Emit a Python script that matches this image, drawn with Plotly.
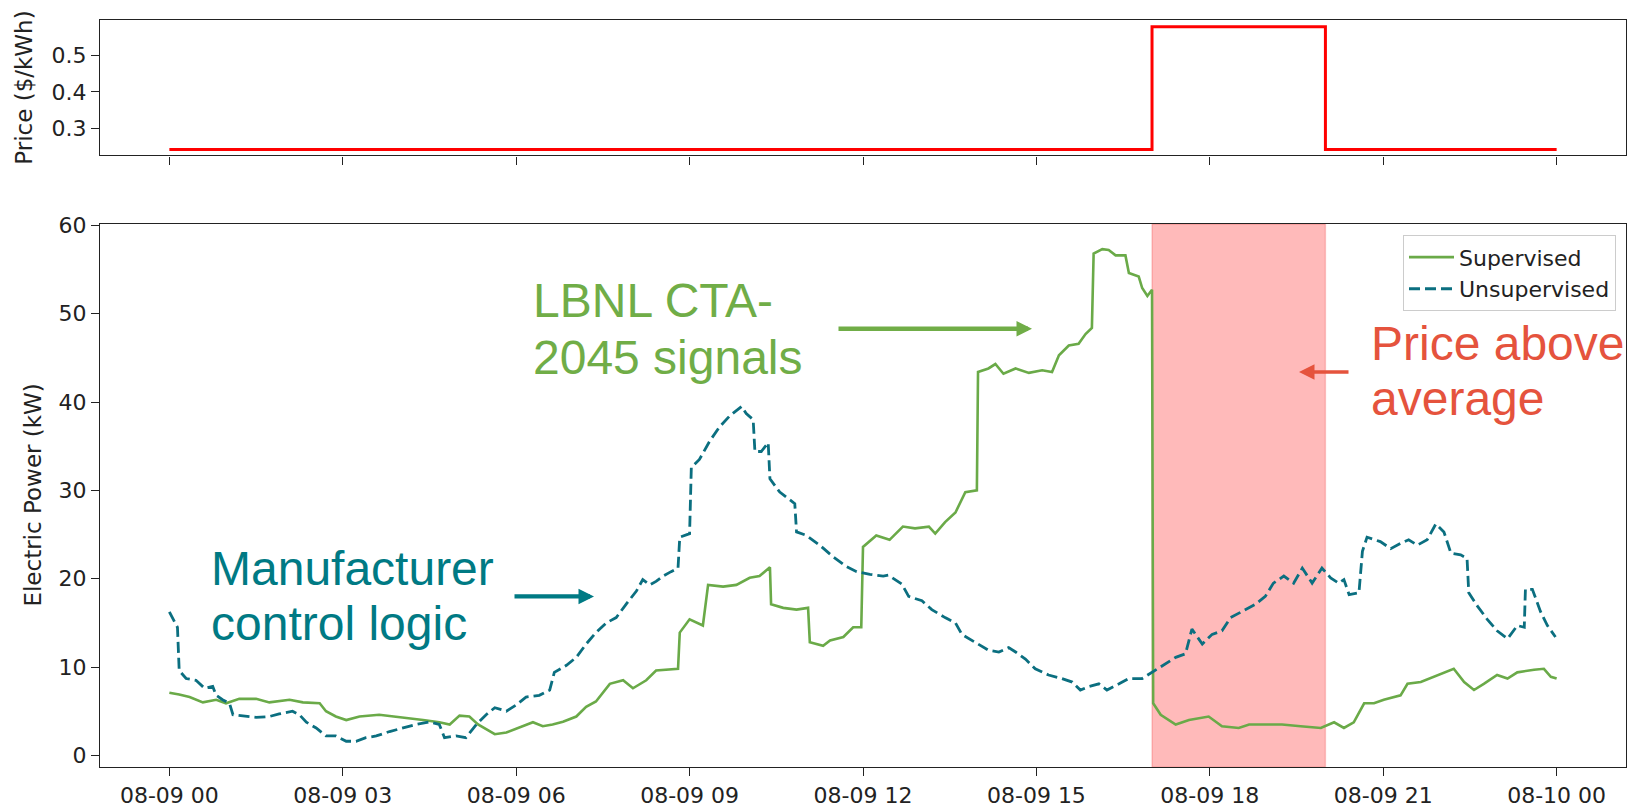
import pandas as pd
import plotly.graph_objects as go

W, H = 1629, 808
BASE = pd.Timestamp("2023-08-09 00:00")

# Electricity price schedule (hours from midnight, $/kWh), drawn as a step
price_hours = [0, 17, 20, 24]
price_usd = [0.242, 0.579, 0.242, 0.242]

# Supervised heat-pump power (hours from midnight, kW)
sup_hours = [0, 0.17, 0.35, 0.58, 0.81, 0.98, 1.21, 1.5, 1.73, 2.08, 2.31, 2.6, 2.71, 2.88,
             3.06, 3.29, 3.63, 3.92, 4.15, 4.39, 4.67, 4.85, 5.02, 5.19, 5.34, 5.48, 5.63,
             5.83, 6.0, 6.29, 6.46, 6.63, 6.81, 7.04, 7.21, 7.38, 7.62, 7.85, 8.02, 8.25,
             8.42, 8.6, 8.8, 8.83, 9.0, 9.23, 9.32, 9.58, 9.81, 10.04, 10.21, 10.39, 10.41,
             10.62, 10.85, 11.05, 11.08, 11.31, 11.43, 11.66, 11.83, 11.97, 12.0, 12.23,
             12.46, 12.69, 12.9, 13.14, 13.25, 13.42, 13.6, 13.77, 13.97, 13.99, 14.17,
             14.29, 14.43, 14.64, 14.87, 15.1, 15.27, 15.39, 15.56, 15.73, 15.85, 15.96,
             15.99, 16.14, 16.25, 16.37, 16.54, 16.6, 16.77, 16.83, 16.92, 17.0, 17.02,
             17.15, 17.29, 17.41, 17.64, 17.98, 18.21, 18.5, 18.68, 18.91, 19.25, 19.57,
             19.92, 20.15, 20.32, 20.49, 20.67, 20.84, 21.01, 21.3, 21.42, 21.65, 21.88,
             22.05, 22.22, 22.4, 22.57, 22.74, 22.97, 23.15, 23.32, 23.61, 23.78, 23.9, 24.0]
sup_kw = [7.1, 6.9, 6.6, 6.0, 6.3, 5.9, 6.4, 6.4, 6.0, 6.3, 6.0, 5.9, 5.0, 4.4,
          4.0, 4.4, 4.6, 4.4, 4.2, 4.0, 3.75, 3.5, 4.5, 4.4, 3.5, 3.0, 2.4,
          2.6, 3.0, 3.75, 3.3, 3.5, 3.8, 4.4, 5.5, 6.1, 8.1, 8.5, 7.6, 8.5,
          9.6, 9.7, 9.8, 13.9, 15.4, 14.7, 19.3, 19.1, 19.3, 20.1, 20.3, 21.3, 17.1,
          16.7, 16.5, 16.7, 12.8, 12.4, 13.0, 13.4, 14.5, 14.5, 23.6, 24.9,
          24.4, 25.9, 25.7, 25.9, 25.1, 26.4, 27.5, 29.8, 30.0, 43.4, 43.8,
          44.3, 43.2, 43.8, 43.3, 43.6, 43.4, 45.3, 46.4, 46.6, 47.7, 48.4,
          56.8, 57.3, 57.2, 56.6, 56.6, 54.6, 54.2, 52.9, 52.0, 52.7, 5.9,
          4.6, 4.0, 3.5, 4.0, 4.4, 3.3, 3.1, 3.5, 3.5, 3.5, 3.3,
          3.1, 3.75, 3.1, 3.75, 5.9, 5.9, 6.3, 6.8, 8.1, 8.3, 8.9,
          9.4, 9.8, 8.3, 7.4, 8.1, 9.1, 8.7, 9.4, 9.7, 9.8, 8.9, 8.7]

# Unsupervised heat-pump power (hours from midnight, kW)
unsup_hours = [0, 0.14, 0.17, 0.29, 0.46, 0.61, 0.75, 0.81, 0.92, 1.04, 1.1, 1.33, 1.5,
               1.73, 1.9, 2.13, 2.25, 2.37, 2.54, 2.71, 2.88, 3.06, 3.23, 3.4, 3.58, 3.81,
               4.04, 4.27, 4.5, 4.67, 4.76, 4.96, 5.13, 5.31, 5.48, 5.63, 5.83, 6.0, 6.17,
               6.4, 6.58, 6.66, 6.87, 7.04, 7.21, 7.38, 7.56, 7.73, 7.9, 8.08, 8.19, 8.31,
               8.42, 8.54, 8.68, 8.8, 8.83, 9.0, 9.03, 9.17, 9.35, 9.52, 9.69, 9.9, 9.98,
               10.1, 10.13, 10.24, 10.36, 10.39, 10.56, 10.73, 10.82, 10.85, 11.02, 11.25,
               11.48, 11.71, 11.89, 12.12, 12.35, 12.44, 12.67, 12.79, 13.02, 13.19, 13.42,
               13.6, 13.71, 13.94, 14.17, 14.35, 14.52, 14.64, 14.81, 14.98, 15.21, 15.44,
               15.62, 15.76, 15.91, 16.08, 16.22, 16.43, 16.6, 16.83, 17.0, 17.18, 17.41,
               17.58, 17.69, 17.87, 18.04, 18.21, 18.36, 18.56, 18.79, 18.96, 19.1, 19.28,
               19.45, 19.6, 19.77, 19.94, 20.09, 20.23, 20.32, 20.41, 20.58, 20.64, 20.72,
               20.95, 21.13, 21.3, 21.44, 21.59, 21.76, 21.91, 22.05, 22.17, 22.34, 22.45,
               22.48, 22.63, 22.8, 22.97, 23.15, 23.32, 23.44, 23.46, 23.58, 23.72, 23.84,
               23.98]
unsup_kw = [16.25, 14.5, 9.6, 8.7, 8.5, 7.6, 7.8, 6.8, 6.3, 5.9, 4.6, 4.4, 4.3,
            4.4, 4.7, 5.0, 4.6, 3.75, 3.1, 2.2, 2.2, 1.6, 1.6, 2.0, 2.2, 2.7,
            3.1, 3.5, 3.8, 3.5, 2.0, 2.2, 2.0, 3.5, 4.6, 5.4, 5.0, 5.7, 6.6,
            6.8, 7.4, 9.4, 10.2, 11.1, 12.6, 13.9, 15.0, 15.6, 17.1, 18.6, 19.9, 19.3,
            19.7, 20.3, 20.8, 21.2, 24.7, 25.1, 32.6, 33.5, 35.6, 37.2, 38.4, 39.5, 38.7,
            38.0, 34.4, 34.4, 35.4, 31.3, 29.8, 29.0, 28.5, 25.3, 24.9, 23.8,
            22.5, 21.4, 20.8, 20.5, 20.3, 20.4, 19.4, 18.0, 17.5, 16.5, 15.6,
            15.0, 13.7, 12.8, 11.9, 11.7, 12.2, 11.7, 10.9, 9.8, 9.1, 8.7,
            8.3, 7.4, 7.8, 8.1, 7.4, 8.1, 8.7, 8.7, 9.4, 10.2, 11.1,
            11.5, 14.3, 12.6, 13.7, 14.1, 15.6, 16.3, 17.1, 18.0, 19.5, 20.3,
            19.5, 21.2, 19.5, 21.2, 20.1, 19.5, 19.9, 18.2, 18.4, 23.1, 24.7,
            24.2, 23.4, 24.0, 24.4, 23.8, 24.4, 26.2, 25.3, 22.9, 22.7, 22.3,
            18.4, 16.9, 15.4, 14.1, 13.2, 14.7, 14.5, 18.8, 18.8, 16.3, 14.7,
            13.4]

# High-price window shaded on the power panel (hours from midnight)
peak_start_h, peak_end_h = 17, 20

GREEN = "#6AAA48"
TEAL = "#0B6F80"
TXT_GREEN = "#70AD47"
TXT_TEAL = "#007A84"
TXT_RED = "#E5533D"
AX = "#222222"
MPL_FONT = "DejaVu Sans"
PPT_FONT = "Liberation Sans, Arial, sans-serif"


def ts(hours):
    return [BASE + pd.Timedelta(hours=h) for h in hours]


def px_x(x):
    return x / W


def px_y(y):
    return 1 - y / H


fig = go.Figure()

fig.add_trace(go.Scatter(
    x=ts(price_hours), y=price_usd, mode="lines", line=dict(color="#FF0000", width=3, shape="hv"),
    xaxis="x", yaxis="y", showlegend=False, hoverinfo="skip"))

fig.add_trace(go.Scatter(
    x=ts(sup_hours), y=sup_kw, mode="lines", name="Supervised",
    line=dict(color=GREEN, width=2.6), xaxis="x2", yaxis="y2"))

fig.add_trace(go.Scatter(
    x=ts(unsup_hours), y=unsup_kw, mode="lines", name="Unsupervised",
    line=dict(color=TEAL, width=2.8, dash="11px,5px"), xaxis="x2", yaxis="y2"))

x_range = [BASE - pd.Timedelta(hours=1.2), BASE + pd.Timedelta(hours=25.2)]
x_dom = [px_x(100), px_x(1626)]

axis_common = dict(
    showline=True, linecolor=AX, linewidth=1.4, mirror=True,
    ticks="outside", ticklen=8, tickwidth=1.3, tickcolor=AX,
    showgrid=False, zeroline=False,
    tickfont=dict(family=MPL_FONT, size=22, color=AX),
)

fig.update_layout(
    width=W, height=H,
    margin=dict(l=0, r=0, t=0, b=0),
    paper_bgcolor="white", plot_bgcolor="white",
    xaxis=dict(domain=x_dom, anchor="y", range=x_range, type="date",
               tick0=BASE, dtick=3 * 3600 * 1000, showticklabels=False, **axis_common),
    yaxis=dict(domain=[px_y(146.7), px_y(9.3)], anchor="x", range=[0.226, 0.597],
               tickvals=[0.3, 0.4, 0.5], ticktext=["0.3", "0.4", "0.5"], **axis_common),
    xaxis2=dict(domain=x_dom, anchor="y2", range=x_range, type="date",
                tick0=BASE, dtick=3 * 3600 * 1000, tickformat="%m-%d %H", **axis_common),
    yaxis2=dict(domain=[px_y(768.5), px_y(216.5)], anchor="x2", range=[-1.33, 60.15],
                dtick=10, **axis_common),
    legend=dict(x=px_x(1616), y=px_y(228), xanchor="right", yanchor="top",
                bgcolor="white", bordercolor="#CCCCCC", borderwidth=1,
                font=dict(family=MPL_FONT, size=22, color=AX),
                tracegroupgap=0, itemwidth=45),
)

fig.add_shape(type="rect", xref="x2", yref="y2 domain",
              x0=BASE + pd.Timedelta(hours=peak_start_h), x1=BASE + pd.Timedelta(hours=peak_end_h),
              y0=0, y1=1, fillcolor="rgba(255,0,0,0.27)",
              line=dict(color="rgba(230,0,0,0.18)", width=1.5), layer="below")

# Axis titles
fig.add_annotation(text="Price ($/kWh)", xref="paper", yref="paper", x=px_x(24), y=px_y(78),
                   xanchor="center", yanchor="middle", textangle=-90, showarrow=False,
                   font=dict(family=MPL_FONT, size=23, color=AX))
fig.add_annotation(text="Electric Power (kW)", xref="paper", yref="paper", x=px_x(33), y=px_y(492.5),
                   xanchor="center", yanchor="middle", textangle=-90, showarrow=False,
                   font=dict(family=MPL_FONT, size=23, color=AX))

# Callout text, one annotation per line
callouts = [
    ("LBNL CTA-", 531, 294, TXT_GREEN),
    ("2045 signals", 531, 352, TXT_GREEN),
    ("Price above", 1369, 338, TXT_RED),
    ("average", 1369, 394, TXT_RED),
    ("Manufacturer", 209, 567, TXT_TEAL),
    ("control logic", 209, 623, TXT_TEAL),
]
for text, x, y, color in callouts:
    fig.add_annotation(text=text, xref="paper", yref="paper", x=px_x(x), y=px_y(y),
                       xanchor="left", yanchor="middle", showarrow=False,
                       font=dict(family=PPT_FONT, size=48, color=color))

# Callout arrows: (tip x, tip y, tail x, color, line width)
arrows = [
    (1032, 323, 837, TXT_GREEN, 4.5),
    (1299, 367, 1350, TXT_RED, 3.5),
    (594, 595, 513, TXT_TEAL, 4.2),
]
for tip_x, tip_y, tail_x, color, lw in arrows:
    fig.add_annotation(text="", xref="paper", yref="paper", x=px_x(tip_x), y=px_y(tip_y),
                       ax=tail_x - tip_x, ay=0, showarrow=True, arrowhead=2,
                       arrowsize=3.1 / lw, arrowwidth=lw, arrowcolor=color)

fig.write_html("out.html")
